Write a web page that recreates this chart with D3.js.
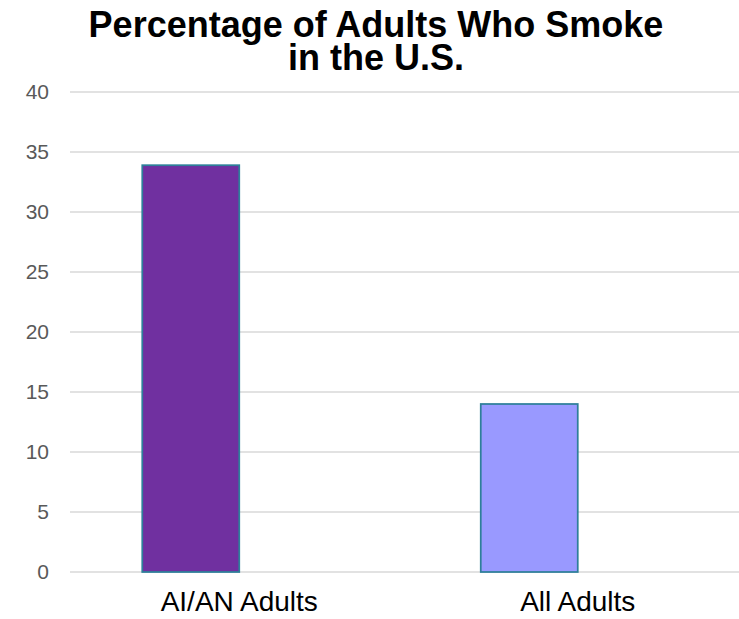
<!DOCTYPE html>
<html>
<head>
<meta charset="utf-8">
<script src="https://cdn.jsdelivr.net/npm/d3@7"></script>
<style>
  html, body { margin: 0; padding: 0; background: #fff; }
  svg { display: block; }
</style>
</head>
<body>
<svg id="chart" width="739" height="619"></svg>
<script>
// Chart data
const categories = ["AI/AN Adults", "All Adults"];
const smokingRates = [33.9, 14.0];
const barColors = ["#7030A0", "#9999FF"];
const yTicks = [0, 5, 10, 15, 20, 25, 30, 35, 40];
const titleLines = ["Percentage of Adults Who Smoke", "in the U.S."];

const width = 739, height = 619;
const plot = { left: 70, right: 747, top: 92, bottom: 572 };

const svg = d3.select("#chart");

// Scales
const x = d3.scaleBand()
  .domain(categories)
  .range([plot.left, plot.right])
  .padding(0);

// Each category holds a two-slot cluster; the bar sits in the first slot
const slot = d3.scaleBand()
  .domain([0, 1])
  .range([0, x.bandwidth()])
  .paddingInner(0)
  .paddingOuter(0.745);

const y = d3.scaleLinear()
  .domain([0, 40])
  .range([plot.bottom, plot.top]);

// Gridlines
svg.append("g")
  .selectAll("line")
  .data(yTicks)
  .join("line")
  .attr("x1", plot.left)
  .attr("x2", width)
  .attr("y1", d => y(d))
  .attr("y2", d => y(d))
  .attr("stroke", "#D9D9D9")
  .attr("stroke-width", 1.5);

// Y axis labels
const yAxis = d3.axisLeft(y).tickValues(yTicks).tickSize(0).tickPadding(0);
const yg = svg.append("g")
  .attr("transform", `translate(${plot.left - 21},0)`)
  .call(yAxis);
yg.select(".domain").remove();
yg.selectAll("text")
  .attr("font-family", "Liberation Sans, Arial, sans-serif")
  .attr("font-size", 21)
  .attr("fill", "#595959");

// Bars
svg.append("g")
  .selectAll("rect")
  .data(categories.map((c, i) => ({ c, v: smokingRates[i], color: barColors[i] })))
  .join("rect")
  .attr("x", d => x(d.c) + slot(0))
  .attr("y", d => y(d.v))
  .attr("width", slot.bandwidth())
  .attr("height", d => y(0) - y(d.v))
  .attr("fill", d => d.color)
  .attr("stroke", "#2E7F9A")
  .attr("stroke-width", 1.75);

// X axis labels
const xAxis = d3.axisBottom(x).tickSize(0).tickPadding(0);
const xg = svg.append("g")
  .attr("transform", `translate(0,${plot.bottom + 19})`)
  .call(xAxis);
xg.select(".domain").remove();
xg.selectAll("text")
  .attr("font-family", "Liberation Sans, Arial, sans-serif")
  .attr("font-size", 28)
  .attr("fill", "#000");

// Title
svg.append("text")
  .attr("text-anchor", "middle")
  .attr("font-family", "Liberation Sans, Arial, sans-serif")
  .attr("font-weight", "bold")
  .attr("font-size", 36)
  .attr("fill", "#000")
  .selectAll("tspan")
  .data(titleLines)
  .join("tspan")
  .attr("x", 376)
  .attr("y", (d, i) => 37 + i * 33)
  .text(d => d);
</script>
</body>
</html>
